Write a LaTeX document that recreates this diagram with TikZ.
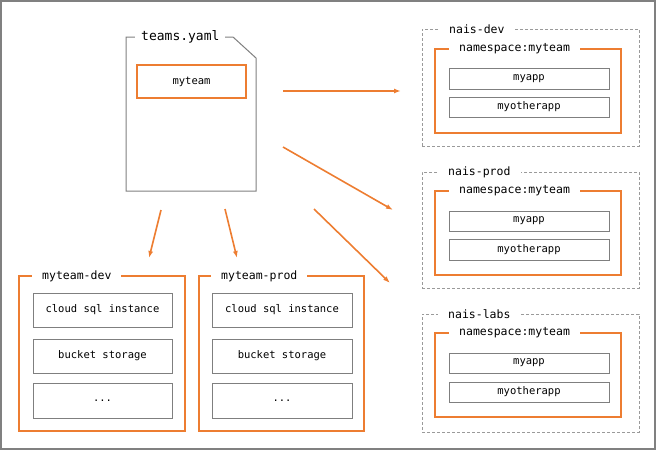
\documentclass[tikz,border=0pt]{standalone}
\usepackage{fontspec}
\setmonofont{DejaVu Sans Mono}
\usetikzlibrary{arrows.meta}

\definecolor{naisorange}{HTML}{ED7D31}
\definecolor{boxgray}{HTML}{7F7F7F}
\definecolor{dashgray}{HTML}{9A9A9A}

\tikzset{
	appbox/.style = {
		draw = boxgray,
		line width = 1pt,
		inner sep = 0pt,
		outer sep = 0pt,
		font = \ttfamily\fontsize{10.5}{12}\selectfont,
	},
	teambox/.style = {
		draw = naisorange,
		line width = 2pt,
		inner sep = 0pt,
		outer sep = 0pt,
		font = \ttfamily\fontsize{10.5}{12}\selectfont,
	},
	clusterbox/.style = {
		draw = dashgray,
		line width = 1pt,
		dash pattern = on 3pt off 2pt,
		inner sep = 0pt,
		outer sep = 0pt,
	},
	framelabel/.style = {
		fill = white,
		anchor = west,
		inner xsep = 10pt,
		inner ysep = 1pt,
		font = \ttfamily\fontsize{11.5}{12}\selectfont,
	},
	flow/.style = {
		draw = naisorange,
		line width = 1.6pt,
		-{Latex[length = 7pt, width = 5pt]},
	},
}

\begin{document}
\begin{tikzpicture}[x = 1pt, y = -1pt]

	\useasboundingbox (0,0) rectangle (656,450);
	\draw[draw = gray, line width = 2pt] (1,1) rectangle (655,449);

	% the teams file
	\draw[draw = boxgray, line width = 1pt]
		(126,37) -- (233,37) -- (256,58) -- (256,191) -- (126,191) -- cycle;
	\node[
		framelabel,
		inner xsep = 6pt,
		font = \ttfamily\fontsize{13}{14}\selectfont,
		name = filelabel,
	] at (135,37) {teams.yaml};
	\node[
		teambox,
		minimum width = 109pt,
		minimum height = 33pt,
		name = teamentry,
	] at (191.5,81.5) {myteam};

	% gcp projects
	\node[teambox, minimum width = 166pt, minimum height = 155pt, name = projdev]
		at (102,353.5) {};
	\node[framelabel, name = projdevlabel]
		at ([xshift = 13pt] projdev.north west) {myteam-dev};
	\node[appbox, minimum width = 139pt, minimum height = 34pt, name = devsql]
		at (102.5,310) {cloud sql instance};
	\node[appbox, minimum width = 139pt, minimum height = 34pt, name = devbucket]
		at (102.5,356) {bucket storage};
	\node[appbox, minimum width = 139pt, minimum height = 35pt, name = devmore]
		at (102.5,400.5) {...};

	\node[teambox, minimum width = 165pt, minimum height = 155pt, name = projprod]
		at (281.5,353.5) {};
	\node[framelabel, name = projprodlabel]
		at ([xshift = 12pt] projprod.north west) {myteam-prod};
	\node[appbox, minimum width = 140pt, minimum height = 34pt, name = prodsql]
		at (282,310) {cloud sql instance};
	\node[appbox, minimum width = 140pt, minimum height = 34pt, name = prodbucket]
		at (282,356) {bucket storage};
	\node[appbox, minimum width = 140pt, minimum height = 35pt, name = prodmore]
		at (282,400.5) {...};

	% clusters
	\node[clusterbox, minimum width = 217pt, minimum height = 117pt, name = naisdev]
		at (530.5,87.5) {};
	\node[framelabel, name = naisdevlabel]
		at ([xshift = 17pt] naisdev.north west) {nais-dev};
	\node[teambox, minimum width = 186pt, minimum height = 84pt, name = devns]
		at (528,91) {};
	\node[framelabel, name = devnslabel]
		at ([xshift = 14pt] devns.north west) {namespace:myteam};
	\node[appbox, minimum width = 160pt, minimum height = 21pt, name = devapp]
		at (529,78.5) {myapp};
	\node[appbox, minimum width = 160pt, minimum height = 20pt, name = devotherapp]
		at (529,107) {myotherapp};

	\node[clusterbox, minimum width = 217pt, minimum height = 116pt, name = naisprod]
		at (530.5,230) {};
	\node[framelabel, name = naisprodlabel]
		at ([xshift = 16pt] naisprod.north west) {nais-prod};
	\node[teambox, minimum width = 186pt, minimum height = 84pt, name = prodns]
		at (528,233) {};
	\node[framelabel, name = prodnslabel]
		at ([xshift = 14pt] prodns.north west) {namespace:myteam};
	\node[appbox, minimum width = 160pt, minimum height = 20pt, name = prodapp]
		at (529,221) {myapp};
	\node[appbox, minimum width = 160pt, minimum height = 21pt, name = prodotherapp]
		at (529,249.5) {myotherapp};

	\node[clusterbox, minimum width = 217pt, minimum height = 118pt, name = naislabs]
		at (530.5,373) {};
	\node[framelabel, name = naislabslabel]
		at ([xshift = 16pt] naislabs.north west) {nais-labs};
	\node[teambox, minimum width = 186pt, minimum height = 84pt, name = labsns]
		at (528,375) {};
	\node[framelabel, name = labsnslabel]
		at ([xshift = 14pt] labsns.north west) {namespace:myteam};
	\node[appbox, minimum width = 160pt, minimum height = 20pt, name = labsapp]
		at (529,363) {myapp};
	\node[appbox, minimum width = 160pt, minimum height = 20pt, name = labsotherapp]
		at (529,392) {myotherapp};

	% arrows
	\coordinate (todev from) at (283,91);
	\coordinate (todev to) at (401,91);
	\coordinate (toprod from) at (283,147);
	\coordinate (toprod to) at (393,210);
	\coordinate (tolabs from) at (314,209);
	\coordinate (tolabs to) at (390,283);
	\coordinate (toprojdev from) at (161,210);
	\coordinate (toprojdev to) at (149,258);
	\coordinate (toprojprod from) at (225,209);
	\coordinate (toprojprod to) at (237,258);

	\draw[flow] (todev from) -- (todev to);
	\draw[flow] (toprod from) -- (toprod to);
	\draw[flow] (tolabs from) -- (tolabs to);
	\draw[flow] (toprojdev from) -- (toprojdev to);
	\draw[flow] (toprojprod from) -- (toprojprod to);

\end{tikzpicture}
\end{document}
